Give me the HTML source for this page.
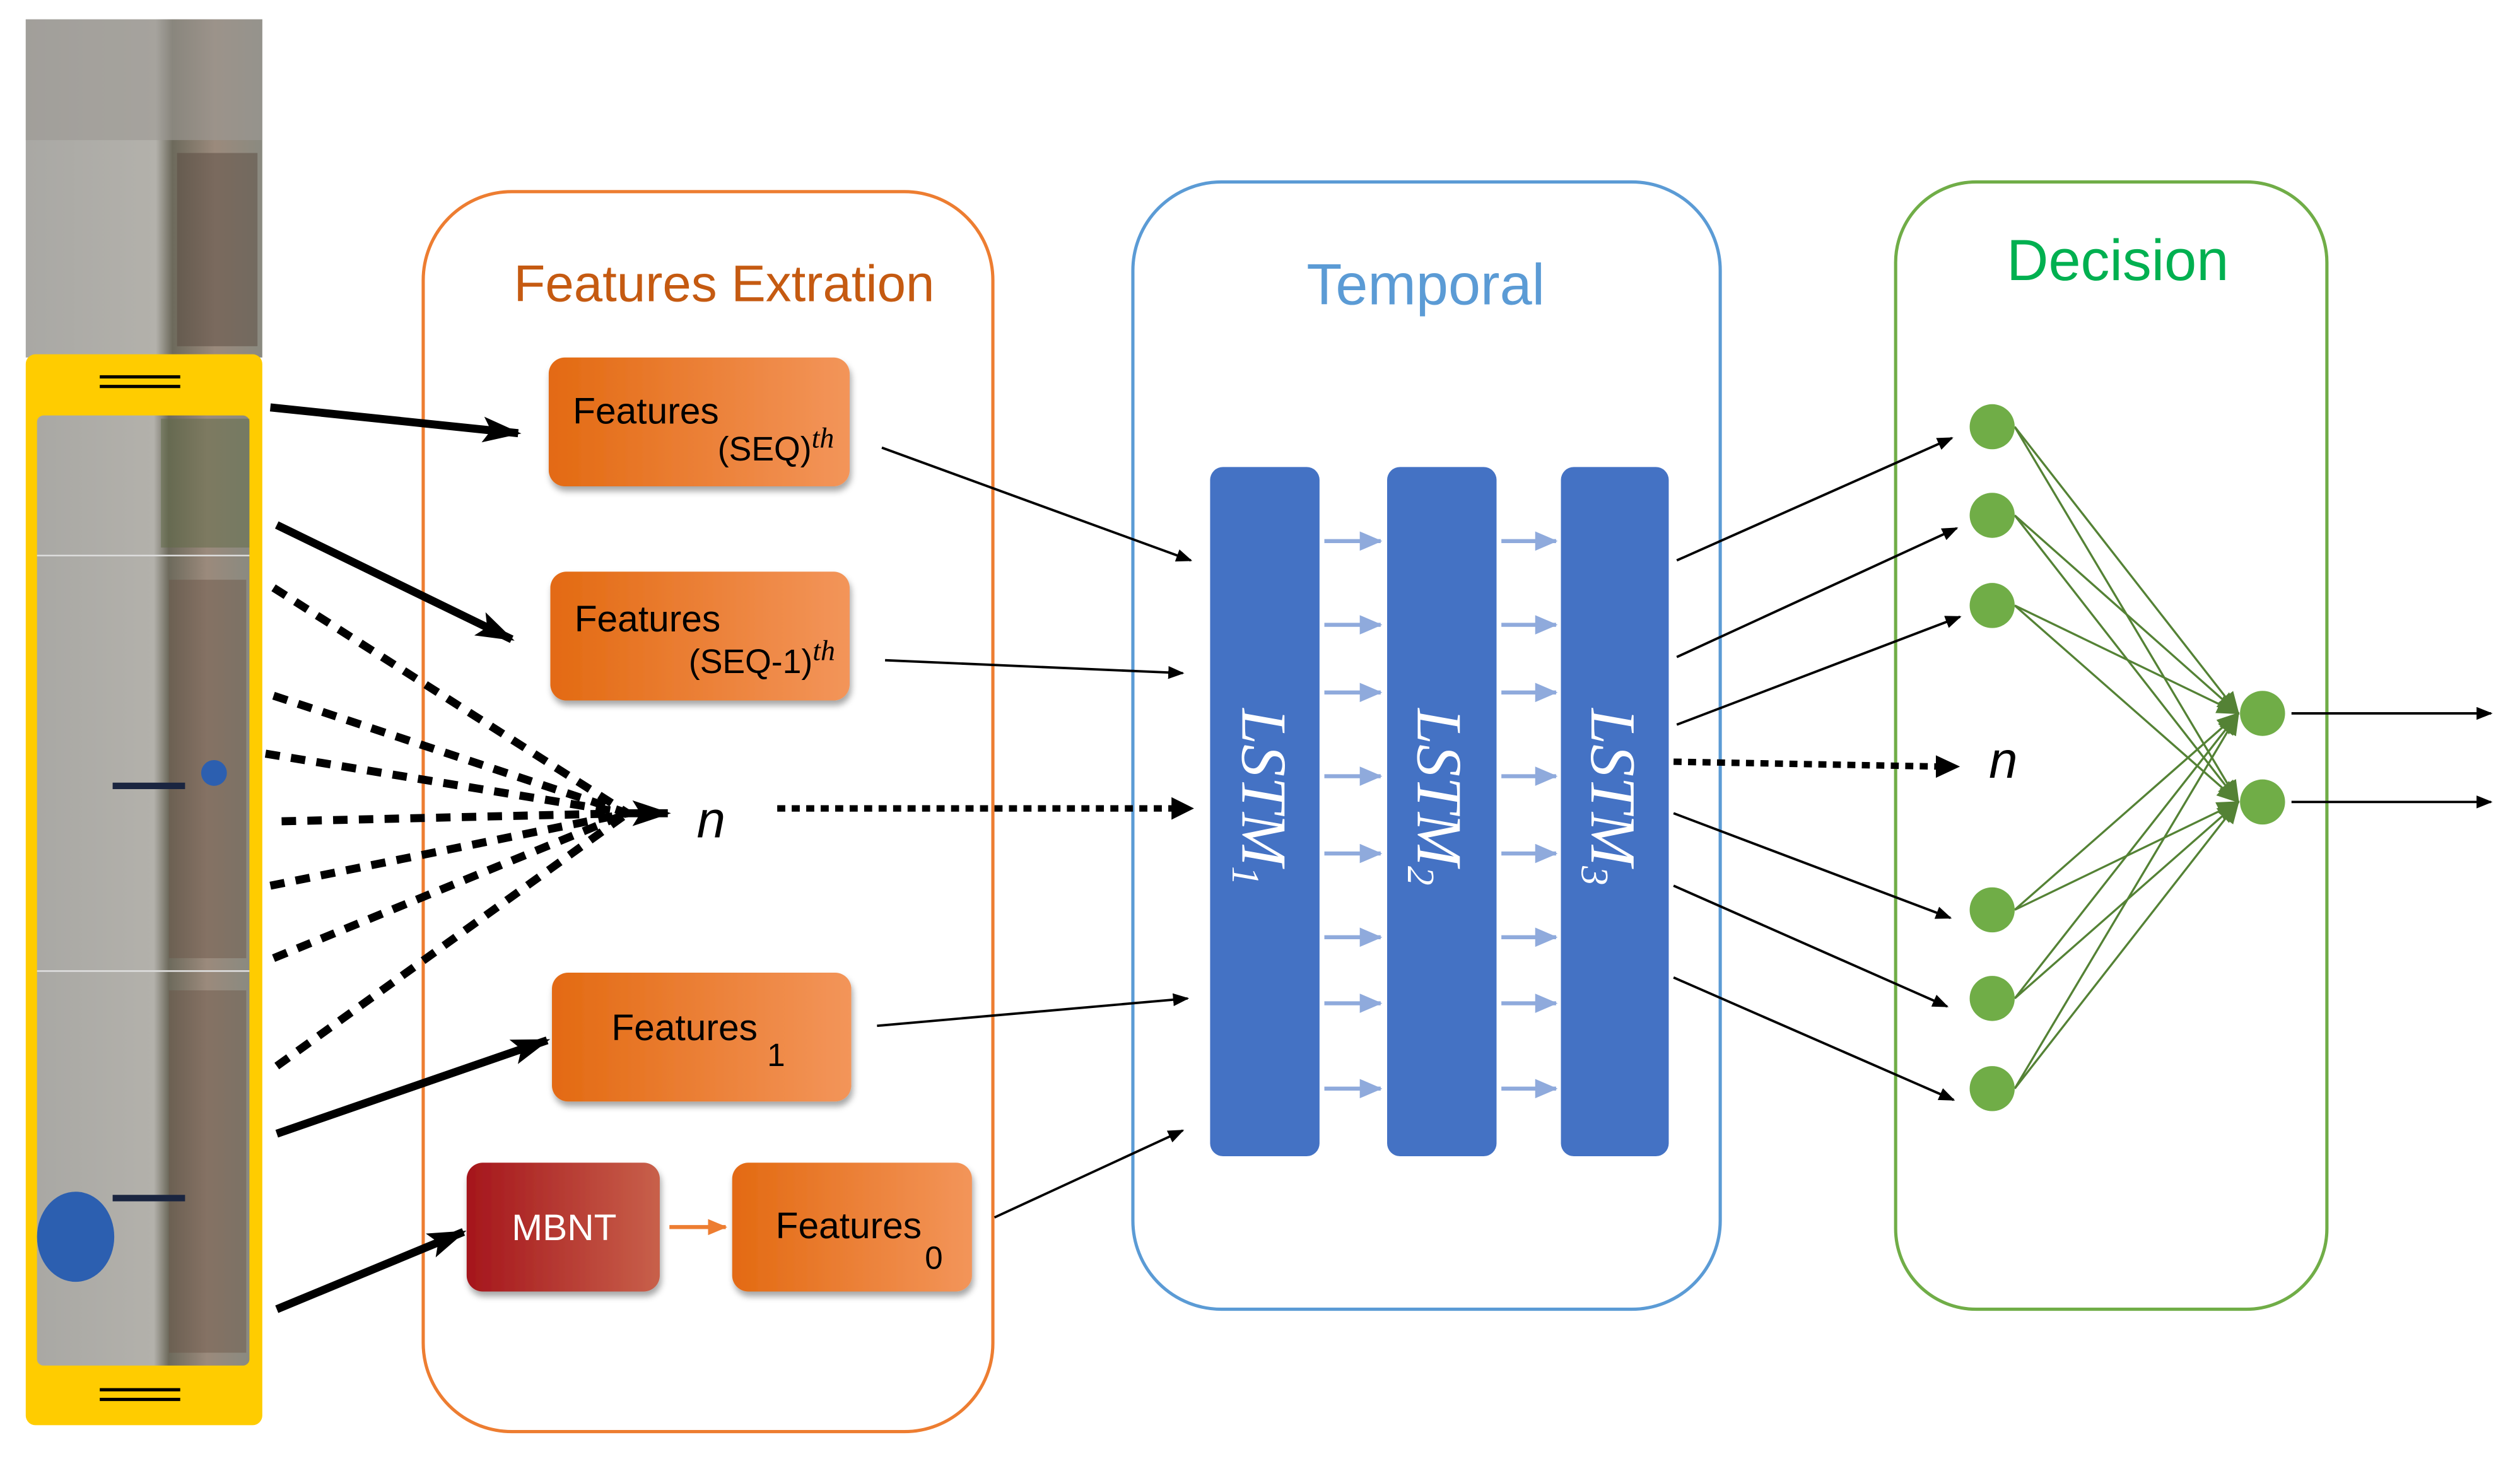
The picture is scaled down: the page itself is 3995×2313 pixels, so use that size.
<!DOCTYPE html>
<html><head><meta charset="utf-8"><style>
html,body{margin:0;padding:0;background:#fff;}
svg{display:block;}
</style></head><body>
<svg width="3995" height="2313" viewBox="0 0 1566 906" preserveAspectRatio="none" xmlns="http://www.w3.org/2000/svg" font-family="Liberation Sans, sans-serif">
<defs>
<marker id="ab" markerWidth="10" markerHeight="8" refX="9" refY="4" orient="auto" markerUnits="userSpaceOnUse"><path d="M0,0 L10,4 L0,8 z" fill="#000"/></marker>
<marker id="abig" markerWidth="24" markerHeight="16" refX="22" refY="8" orient="auto" markerUnits="userSpaceOnUse"><path d="M0,0 L24,8 L0,16 L5,8 z" fill="#000"/></marker>
<marker id="abl" markerWidth="14" markerHeight="12" refX="13" refY="6" orient="auto" markerUnits="userSpaceOnUse"><path d="M0,0 L14,6 L0,12 z" fill="#8FAADC"/></marker>
<marker id="ag" markerWidth="14" markerHeight="12" refX="13" refY="6" orient="auto" markerUnits="userSpaceOnUse"><path d="M0,0 L14,6 L0,12 z" fill="#548235"/></marker>
<marker id="ao" markerWidth="12" markerHeight="10" refX="11" refY="5" orient="auto" markerUnits="userSpaceOnUse"><path d="M0,0 L12,5 L0,10 z" fill="#ED7D31"/></marker>
<linearGradient id="og" x1="0" x2="1"><stop offset="0" stop-color="#E36A12"/><stop offset="1" stop-color="#F3955A"/></linearGradient>
<linearGradient id="rg" x1="0" x2="1"><stop offset="0" stop-color="#A5161C"/><stop offset="1" stop-color="#C8604A"/></linearGradient>
<linearGradient id="ph" x1="0" x2="1"><stop offset="0" stop-color="#a9a8a4"/><stop offset="0.55" stop-color="#b3b1ab"/><stop offset="0.62" stop-color="#6d6a5c"/><stop offset="0.8" stop-color="#9b8a7c"/><stop offset="1" stop-color="#8a8a80"/></linearGradient>
<filter id="sh" x="-10%" y="-10%" width="130%" height="140%"><feDropShadow dx="1" dy="3" stdDeviation="2" flood-opacity="0.35"/></filter>
</defs>

<rect x="16" y="12" width="147" height="210" fill="url(#ph)"/>
<rect x="16" y="12" width="147" height="75" fill="#9c9a95" opacity="0.6"/>
<rect x="110" y="95" width="50" height="120" fill="#5a4a40" opacity="0.5"/>
<rect x="16" y="220" width="147" height="665" rx="6" fill="#FFCC00"/>
<rect x="23" y="258" width="132" height="590" rx="4" fill="url(#ph)"/>
<rect x="100" y="260" width="55" height="80" fill="#5f6a45" opacity="0.5"/>
<rect x="105" y="360" width="48" height="235" fill="#6b5548" opacity="0.45"/>
<rect x="105" y="615" width="48" height="225" fill="#6b5548" opacity="0.45"/>
<line x1="23" y1="345" x2="155" y2="345" stroke="#ddd" stroke-width="1"/>
<line x1="23" y1="603" x2="155" y2="603" stroke="#ddd" stroke-width="1"/>
<ellipse cx="47" cy="768" rx="24" ry="28" fill="#2c5fb0"/>
<circle cx="133" cy="480" r="8" fill="#2c5fb0"/>
<line x1="70" y1="488" x2="115" y2="488" stroke="#1a2540" stroke-width="4"/>
<line x1="70" y1="744" x2="115" y2="744" stroke="#1a2540" stroke-width="4"/>
<g stroke="#000" stroke-width="2"><line x1="62" y1="234" x2="112" y2="234"/><line x1="62" y1="240" x2="112" y2="240"/><line x1="62" y1="863" x2="112" y2="863"/><line x1="62" y1="869" x2="112" y2="869"/></g>

<rect x="263" y="119" width="354" height="770" rx="55" fill="none" stroke="#ED7D31" stroke-width="2"/>
<text x="450" y="187" font-size="32" fill="#C55A11" text-anchor="middle">Features Extration</text>
<rect x="704" y="113" width="365" height="700" rx="55" fill="none" stroke="#5B9BD5" stroke-width="2"/>
<text x="886" y="189" font-size="36" fill="#5B9BD5" text-anchor="middle">Temporal</text>
<rect x="1178" y="113" width="268" height="700" rx="50" fill="none" stroke="#70AD47" stroke-width="2"/>
<text x="1316" y="174" font-size="36" fill="#00B050" text-anchor="middle">Decision</text>

<g filter="url(#sh)">
<rect x="341" y="222" width="187" height="80" rx="10" fill="url(#og)"/>
<rect x="342" y="355" width="186" height="80" rx="10" fill="url(#og)"/>
<rect x="343" y="604" width="186" height="80" rx="10" fill="url(#og)"/>
<rect x="290" y="722" width="120" height="80" rx="10" fill="url(#rg)"/>
<rect x="455" y="722" width="149" height="80" rx="10" fill="url(#og)"/>
</g>
<g font-size="23" fill="#000">
<text x="356" y="263">Features</text>
<text x="446" y="286" font-size="21">(SEQ)<tspan font-family="Liberation Serif, serif" font-style="italic" dy="-8" font-size="18">th</tspan></text>
<text x="357" y="392">Features</text>
<text x="428" y="418" font-size="21">(SEQ-1)<tspan font-family="Liberation Serif, serif" font-style="italic" dy="-8" font-size="18">th</tspan></text>
<text x="380" y="646">Features<tspan dx="6" dy="16" font-size="20">1</tspan></text>
<text x="482" y="769">Features<tspan dx="2" dy="19" font-size="20">0</tspan></text>
<text x="318" y="770" fill="#fff">MBNT</text>
</g>
<line x1="416" y1="762" x2="451" y2="762" stroke="#ED7D31" stroke-width="2.5" marker-end="url(#ao)"/>

<g stroke="#000" stroke-width="5" fill="none">
<line x1="168" y1="253" x2="322" y2="269" marker-end="url(#abig)"/>
<line x1="172" y1="326" x2="318" y2="397" marker-end="url(#abig)"/>
<line x1="172" y1="704" x2="340" y2="646" marker-end="url(#abig)"/>
<line x1="172" y1="813" x2="288" y2="765" marker-end="url(#abig)"/>
</g>
<g stroke="#000" stroke-width="5" stroke-dasharray="9,7" fill="none">
<line x1="170" y1="365" x2="390" y2="505"/>
<line x1="170" y1="432" x2="390" y2="505"/>
<line x1="165" y1="468" x2="390" y2="505"/>
<line x1="175" y1="510" x2="390" y2="505"/>
<line x1="168" y1="550" x2="390" y2="505"/>
<line x1="170" y1="595" x2="390" y2="505"/>
<line x1="172" y1="662" x2="390" y2="505"/>
<line x1="385" y1="505" x2="415" y2="505" stroke-dasharray="none" marker-end="url(#abig)"/>
</g>
<text x="433" y="520" font-size="32" font-style="italic">n</text>

<g stroke="#000" stroke-width="1.5" fill="none" marker-end="url(#ab)">
<line x1="548" y1="278" x2="740" y2="348"/>
<line x1="550" y1="410" x2="735" y2="418"/>
<line x1="545" y1="637" x2="738" y2="620"/>
<line x1="618" y1="756" x2="735" y2="702"/>
</g>
<line x1="483" y1="502" x2="730" y2="502" stroke="#000" stroke-width="4" stroke-dasharray="5,4"/>
<path d="M728,495 L742,502 L728,509 z" fill="#000"/>

<g fill="#4472C4">
<rect x="752" y="290" width="68" height="428" rx="8"/>
<rect x="862" y="290" width="68" height="428" rx="8"/>
<rect x="970" y="290" width="67" height="428" rx="8"/>
</g>
<g font-family="Liberation Serif, serif" font-style="italic" font-size="40" fill="#fff">
<text transform="translate(772,440) rotate(90)">LSTM<tspan font-size="24" dy="6">1</tspan></text>
<text transform="translate(881,440) rotate(90)">LSTM<tspan font-size="24" dy="6">2</tspan></text>
<text transform="translate(989,440) rotate(90)">LSTM<tspan font-size="24" dy="6">3</tspan></text>
</g>
<g stroke="#8FAADC" stroke-width="2.5" marker-end="url(#abl)">
<line x1="823" y1="336" x2="858" y2="336"/><line x1="933" y1="336" x2="967" y2="336"/>
<line x1="823" y1="388" x2="858" y2="388"/><line x1="933" y1="388" x2="967" y2="388"/>
<line x1="823" y1="430" x2="858" y2="430"/><line x1="933" y1="430" x2="967" y2="430"/>
<line x1="823" y1="482" x2="858" y2="482"/><line x1="933" y1="482" x2="967" y2="482"/>
<line x1="823" y1="530" x2="858" y2="530"/><line x1="933" y1="530" x2="967" y2="530"/>
<line x1="823" y1="582" x2="858" y2="582"/><line x1="933" y1="582" x2="967" y2="582"/>
<line x1="823" y1="623" x2="858" y2="623"/><line x1="933" y1="623" x2="967" y2="623"/>
<line x1="823" y1="676" x2="858" y2="676"/><line x1="933" y1="676" x2="967" y2="676"/>
</g>

<g stroke="#000" stroke-width="1.5" fill="none" marker-end="url(#ab)">
<line x1="1042" y1="348" x2="1213" y2="272"/>
<line x1="1042" y1="408" x2="1216" y2="328"/>
<line x1="1042" y1="450" x2="1218" y2="383"/>
<line x1="1040" y1="505" x2="1212" y2="570"/>
<line x1="1040" y1="550" x2="1210" y2="625"/>
<line x1="1040" y1="607" x2="1214" y2="683"/>
</g>
<line x1="1040" y1="473" x2="1205" y2="476" stroke="#000" stroke-width="4" stroke-dasharray="5,4"/>
<path d="M1203,469 L1218,476 L1203,483 z" fill="#000"/>
<text x="1236" y="483" font-size="32" font-style="italic">n</text>

<g stroke="#548235" stroke-width="1.3" fill="none" marker-end="url(#ag)">
<line x1="1252" y1="265" x2="1391" y2="443"/><line x1="1252" y1="265" x2="1391" y2="498"/>
<line x1="1252" y1="320" x2="1391" y2="443"/><line x1="1252" y1="320" x2="1391" y2="498"/>
<line x1="1252" y1="376" x2="1391" y2="443"/><line x1="1252" y1="376" x2="1391" y2="498"/>
<line x1="1252" y1="565" x2="1391" y2="443"/><line x1="1252" y1="565" x2="1391" y2="498"/>
<line x1="1252" y1="620" x2="1391" y2="443"/><line x1="1252" y1="620" x2="1391" y2="498"/>
<line x1="1252" y1="676" x2="1391" y2="443"/><line x1="1252" y1="676" x2="1391" y2="498"/>
</g>
<g fill="#70AD47">
<circle cx="1238" cy="265" r="14"/><circle cx="1238" cy="320" r="14"/><circle cx="1238" cy="376" r="14"/>
<circle cx="1238" cy="565" r="14"/><circle cx="1238" cy="620" r="14"/><circle cx="1238" cy="676" r="14"/>
<circle cx="1406" cy="443" r="14"/><circle cx="1406" cy="498" r="14"/>
</g>
<g stroke="#000" stroke-width="1.5" marker-end="url(#ab)">
<line x1="1424" y1="443" x2="1548" y2="443"/>
<line x1="1424" y1="498" x2="1548" y2="498"/>
</g>
</svg>
</body></html>
